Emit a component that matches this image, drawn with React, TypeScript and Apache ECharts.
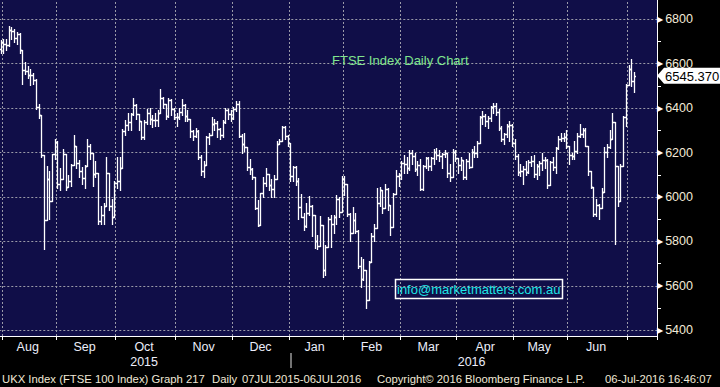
import React, { useEffect, useRef } from 'react';
import * as echarts from 'echarts';

// ---- calendar (trading days shown on the chart) ----
const monthNames = ['', 'Aug', 'Sep', 'Oct', 'Nov', 'Dec', 'Jan', 'Feb', 'Mar', 'Apr', 'May', 'Jun', ''];
const monthNums = [7, 8, 9, 10, 11, 12, 1, 2, 3, 4, 5, 6, 7];
const monthYears = [2015, 2015, 2015, 2015, 2015, 2015, 2016, 2016, 2016, 2016, 2016, 2016, 2016];
const monthDays = [
  [31],
  [3, 4, 5, 6, 7, 10, 11, 12, 13, 14, 17, 18, 19, 20, 21, 24, 25, 26, 27, 28],
  [1, 2, 3, 4, 7, 8, 9, 10, 11, 14, 15, 16, 17, 18, 21, 22, 23, 24, 25, 28, 29, 30],
  [1, 2, 5, 6, 7, 8, 9, 12, 13, 14, 15, 16, 19, 20, 21, 22, 23, 26, 27, 28, 29, 30],
  [2, 3, 4, 5, 6, 9, 10, 11, 12, 13, 16, 17, 18, 19, 20, 23, 24, 25, 26, 27, 30],
  [1, 2, 3, 4, 7, 8, 9, 10, 11, 14, 15, 16, 17, 18, 21, 22, 23, 24, 29, 30, 31],
  [4, 5, 6, 7, 8, 11, 12, 13, 14, 15, 18, 19, 20, 21, 22, 25, 26, 27, 28, 29],
  [1, 2, 3, 4, 5, 8, 9, 10, 11, 12, 15, 16, 17, 18, 19, 22, 23, 24, 25, 26, 29],
  [1, 2, 3, 4, 7, 8, 9, 10, 11, 14, 15, 16, 17, 18, 21, 22, 23, 24, 29, 30, 31],
  [1, 4, 5, 6, 7, 8, 11, 12, 13, 14, 15, 18, 19, 20, 21, 22, 25, 26, 27, 28, 29],
  [3, 4, 5, 6, 9, 10, 11, 12, 13, 16, 17, 18, 19, 20, 23, 24, 25, 26, 27, 31],
  [1, 2, 3, 6, 7, 8, 9, 10, 13, 14, 15, 16, 17, 20, 21, 22, 23, 24, 27, 28, 29, 30],
  [1, 4, 5],
];
const padSlots = 8;
const yearLabels = ['2015', '2016'];

// ---- OHLC values (FTSE 100) ----
const opens = [
  6668,
  6696, 6688, 6686, 6752, 6747, 6718, 6736, 6664, 6571, 6568, 6550, 6551, 6526, 6403, 6367, 6188, 5898, 6081, 5980, 6193,
  6247, 6058, 6083, 6194, 6043, 6074, 6146, 6229, 6155, 6118, 6084, 6138, 6229, 6197, 6104, 6109, 5893, 5917, 5961, 6109, 5958, 5909,
  6062, 6073, 6130, 6299, 6326, 6336, 6374, 6416, 6372, 6342, 6270, 6338, 6378, 6353, 6345, 6348, 6376, 6444, 6417, 6366, 6437, 6395,
  6361, 6361, 6383, 6412, 6365, 6353, 6295, 6275, 6297, 6178, 6118, 6146, 6268, 6278, 6329, 6334, 6305, 6277, 6337, 6393, 6375,
  6356, 6395, 6420, 6275, 6238, 6223, 6136, 6126, 6088, 5952, 5874, 6018, 6061, 6102, 6052, 6034, 6083, 6240, 6254, 6314, 6274,
  6242, 6093, 6137, 6073, 5954, 5912, 5871, 5929, 5961, 5918, 5804, 5779, 5876, 5673, 5773, 5900, 5877, 5911, 5990, 5931,
  6083, 6060, 5922, 5837, 5898, 5848, 5689, 5632, 5672, 5537, 5707, 5824, 5862, 5971, 6030, 5950, 6037, 5962, 5867, 6013, 6096,
  6097, 6153, 6147, 6130, 6199, 6183, 6125, 6146, 6036, 6139, 6174, 6140, 6175, 6201, 6189, 6185, 6192, 6199, 6106, 6091, 6203,
  6175, 6146, 6165, 6092, 6161, 6136, 6204, 6200, 6242, 6362, 6365, 6343, 6354, 6406, 6410, 6381, 6310, 6260, 6284, 6319, 6322,
  6242, 6185, 6112, 6117, 6125, 6114, 6156, 6162, 6104, 6138, 6151, 6167, 6165, 6053, 6156, 6136, 6219, 6262, 6265, 6270,
  6231, 6191, 6185, 6209, 6273, 6285, 6301, 6231, 6116, 6044, 5923, 5966, 5950, 6021, 6204, 6227, 6261, 6338, 6138, 5982, 6140, 6360,
  6504, 6577, 6522,
];
const highs = [
  6707,
  6710, 6710, 6769, 6766, 6755, 6745, 6740, 6664, 6610, 6590, 6575, 6560, 6530, 6420, 6367, 6188, 6140, 6115, 6195, 6260,
  6250, 6130, 6215, 6194, 6100, 6150, 6280, 6229, 6165, 6135, 6145, 6260, 6240, 6197, 6160, 6109, 5960, 5975, 6180, 6110, 5990, 6070,
  6178, 6180, 6305, 6345, 6380, 6380, 6445, 6420, 6372, 6342, 6345, 6395, 6400, 6370, 6380, 6390, 6485, 6450, 6417, 6445, 6440, 6400,
  6380, 6400, 6440, 6420, 6390, 6353, 6300, 6310, 6300, 6190, 6160, 6275, 6290, 6360, 6350, 6340, 6310, 6345, 6400, 6395, 6390,
  6405, 6430, 6430, 6285, 6290, 6223, 6170, 6130, 6088, 5985, 6020, 6090, 6130, 6105, 6080, 6100, 6250, 6260, 6320, 6320, 6280,
  6245, 6140, 6140, 6085, 6015, 5930, 5975, 6005, 5965, 5920, 5830, 5915, 5876, 5785, 5910, 5920, 5920, 6010, 6000, 6095,
  6095, 6060, 5930, 5955, 5930, 5850, 5730, 5720, 5672, 5710, 5840, 5880, 6040, 6045, 6030, 6060, 6040, 5962, 6020, 6120, 6110,
  6160, 6190, 6180, 6210, 6210, 6200, 6160, 6170, 6145, 6180, 6180, 6180, 6215, 6220, 6210, 6200, 6210, 6199, 6150, 6215, 6210,
  6175, 6180, 6165, 6170, 6200, 6215, 6230, 6250, 6365, 6385, 6375, 6365, 6410, 6425, 6425, 6395, 6320, 6290, 6330, 6340, 6330,
  6260, 6195, 6150, 6140, 6160, 6165, 6185, 6190, 6150, 6160, 6200, 6180, 6170, 6160, 6180, 6225, 6275, 6290, 6290, 6300,
  6231, 6200, 6250, 6290, 6330, 6310, 6310, 6231, 6116, 6044, 5990, 5970, 6040, 6225, 6240, 6300, 6380, 6338, 6138, 6150, 6365, 6510,
  6595, 6621, 6565,
];
const lows = [
  6648,
  6648, 6660, 6680, 6712, 6700, 6690, 6648, 6510, 6555, 6535, 6505, 6510, 6395, 6356, 6180, 5768, 5898, 5900, 5980, 6170,
  6040, 6030, 6083, 6030, 6043, 6050, 6146, 6130, 6090, 6060, 6040, 6138, 6170, 6050, 6090, 5880, 5880, 5880, 5961, 5940, 5880, 5909,
  6040, 6030, 6130, 6280, 6300, 6300, 6370, 6350, 6300, 6260, 6260, 6330, 6330, 6315, 6320, 6320, 6376, 6400, 6350, 6360, 6370, 6350,
  6320, 6350, 6370, 6340, 6340, 6270, 6255, 6270, 6170, 6100, 6090, 6146, 6240, 6278, 6300, 6270, 6260, 6270, 6335, 6350, 6340,
  6350, 6385, 6270, 6200, 6205, 6120, 6105, 6080, 5945, 5871, 5874, 6000, 6050, 6030, 6000, 6000, 6083, 6238, 6254, 6260, 6230,
  6070, 6070, 6055, 5900, 5910, 5850, 5865, 5920, 5825, 5770, 5767, 5779, 5639, 5650, 5773, 5776, 5840, 5880, 5910, 5931,
  6010, 5915, 5800, 5837, 5840, 5680, 5595, 5625, 5500, 5537, 5707, 5800, 5862, 5960, 5930, 5950, 5940, 5830, 5867, 6013, 6050,
  6080, 6110, 6110, 6120, 6150, 6115, 6100, 6030, 6030, 6130, 6120, 6120, 6150, 6170, 6160, 6130, 6180, 6090, 6070, 6091, 6160,
  6110, 6120, 6080, 6080, 6130, 6136, 6180, 6180, 6242, 6330, 6320, 6310, 6340, 6380, 6370, 6300, 6250, 6240, 6270, 6250, 6230,
  6170, 6100, 6095, 6060, 6100, 6110, 6140, 6090, 6080, 6100, 6120, 6130, 6040, 6053, 6120, 6110, 6215, 6250, 6250, 6220,
  6150, 6170, 6170, 6200, 6270, 6270, 6230, 6100, 6040, 5915, 5915, 5900, 5950, 6021, 6180, 6220, 6261, 5788, 5958, 5982, 6140, 6320,
  6504, 6500, 6474,
];
const closes = [
  6696,
  6688, 6686, 6752, 6747, 6718, 6736, 6664, 6571, 6568, 6550, 6551, 6526, 6403, 6367, 6188, 5898, 6081, 5980, 6193, 6247,
  6058, 6083, 6194, 6043, 6074, 6146, 6229, 6155, 6118, 6084, 6138, 6229, 6197, 6104, 6109, 5893, 5917, 5961, 6109, 5958, 5909, 6062,
  6073, 6130, 6299, 6326, 6336, 6374, 6416, 6372, 6342, 6270, 6338, 6378, 6353, 6345, 6348, 6376, 6444, 6417, 6366, 6437, 6395, 6361,
  6361, 6383, 6412, 6365, 6353, 6295, 6275, 6297, 6178, 6118, 6146, 6268, 6278, 6329, 6334, 6305, 6277, 6337, 6393, 6375, 6356,
  6395, 6420, 6275, 6238, 6223, 6136, 6126, 6088, 5952, 5874, 6018, 6061, 6102, 6052, 6034, 6083, 6240, 6254, 6314, 6274, 6242,
  6093, 6137, 6073, 5954, 5912, 5871, 5929, 5961, 5918, 5804, 5779, 5876, 5673, 5773, 5900, 5877, 5911, 5990, 5931, 6083,
  6060, 5922, 5837, 5898, 5848, 5689, 5632, 5672, 5537, 5707, 5824, 5862, 5971, 6030, 5950, 6037, 5962, 5867, 6013, 6096, 6097,
  6153, 6147, 6130, 6199, 6183, 6125, 6146, 6036, 6139, 6174, 6140, 6175, 6201, 6189, 6185, 6192, 6199, 6106, 6091, 6203, 6175,
  6146, 6165, 6092, 6161, 6136, 6204, 6200, 6242, 6362, 6365, 6343, 6354, 6406, 6410, 6381, 6310, 6260, 6284, 6319, 6322, 6242,
  6185, 6112, 6117, 6125, 6114, 6156, 6162, 6104, 6138, 6151, 6167, 6165, 6053, 6156, 6136, 6219, 6262, 6265, 6270, 6231,
  6191, 6185, 6209, 6273, 6285, 6301, 6231, 6116, 6044, 5923, 5966, 5950, 6021, 6204, 6227, 6261, 6338, 6138, 5982, 6140, 6360, 6504,
  6577, 6522, 6545.37,
];

const titleText = 'FTSE Index Daily Chart';
const emailText = 'info@marketmatters.com.au';
const footerTexts = [
  'UKX Index (FTSE 100 Index) Graph 217',
  'Daily',
  '07JUL2015-06JUL2016',
  'Copyright\u00A9 2016 Bloomberg Finance L.P.',
  '06-Jul-2016 16:46:07',
];

const FONT = '"Liberation Sans", Arial, Helvetica, sans-serif';

export default function App() {
  const ref = useRef<HTMLDivElement>(null);

  useEffect(() => {
    if (!ref.current) return;
    const chart = echarts.init(ref.current, null, { renderer: 'svg' });

    const dates: string[] = [];
    const monthStart: number[] = [];
    monthDays.forEach((days, m) => {
      monthStart.push(dates.length);
      days.forEach((d) =>
        dates.push(`${monthYears[m]}-${String(monthNums[m]).padStart(2, '0')}-${String(d).padStart(2, '0')}`)
      );
    });
    const categories = dates.concat(Array.from({ length: padSlots }, (_, i) => `pad${i}`));
    const startSet = new Set(monthStart);
    const monthLabelAt: Record<number, string> = {};
    monthDays.forEach((days, m) => {
      if (monthNames[m]) monthLabelAt[monthStart[m] + Math.floor((days.length - 1) / 2)] = monthNames[m];
    });
    const yearBoundary = monthStart[monthYears.indexOf(2016)];
    const yearLabelAt: Record<number, string> = {};
    yearLabelAt[Math.floor((yearBoundary - 1) / 2)] = yearLabels[0];
    yearLabelAt[Math.floor((yearBoundary + categories.length - 1) / 2)] = yearLabels[1];

    const data = dates.map((_, i) => [i, opens[i], highs[i], lows[i], closes[i]]);
    const lastClose = closes[closes.length - 1];

    const gridLine = { color: '#9a9aa8', width: 1, type: [2, 2] as any };

    chart.setOption({
      animation: false,
      backgroundColor: '#000000',
      grid: {
        left: -0.7,
        right: 63,
        top: -2,
        bottom: 51,
        show: true,
        backgroundColor: '#100e48',
        borderWidth: 0,
        containLabel: false,
        outerBoundsMode: 'none',
      },
      xAxis: [
        {
          type: 'category',
          data: categories,
          boundaryGap: true,
          axisLine: { show: true, lineStyle: { color: '#ffffff', width: 1 } },
          axisTick: {
            show: true,
            length: 4,
            interval: (i: number) => startSet.has(i),
            lineStyle: { color: '#ffffff', width: 1 },
          },
          splitLine: { show: true, interval: (i: number) => startSet.has(i), lineStyle: gridLine },
          axisLabel: {
            interval: (i: number) => monthLabelAt[i] !== undefined,
            formatter: (_v: string, i: number) => monthLabelAt[i] ?? '',
            color: '#eceefa',
            fontFamily: FONT,
            fontSize: 12.5,
            margin: 4,
          },
        },
        {
          type: 'category',
          data: categories,
          position: 'bottom',
          offset: 17,
          axisLine: { show: false },
          axisTick: {
            show: true,
            alignWithLabel: true,
            length: 15,
            interval: (i: number) => i === yearBoundary,
            lineStyle: { color: '#9a9a9a', width: 1.5 },
          },
          splitLine: { show: false },
          axisLabel: {
            interval: (i: number) => yearLabelAt[i] !== undefined,
            formatter: (_v: string, i: number) => yearLabelAt[i] ?? '',
            color: '#eceefa',
            fontFamily: FONT,
            fontSize: 12.5,
            margin: 2,
          },
        },
      ],
      yAxis: {
        type: 'value',
        position: 'right',
        min: 5374,
        max: 6896,
        splitNumber: 7,
        minInterval: 200,
        maxInterval: 200,
        axisLine: { show: true, lineStyle: { color: '#ffffff', width: 1 } },
        axisTick: { show: false },
        minorTick: { show: true, splitNumber: 2, length: 4, lineStyle: { color: '#ffffff', width: 1 } },
        splitLine: { show: true, lineStyle: gridLine },
        axisLabel: {
          margin: 0,
          showMinLabel: false,
          showMaxLabel: false,
          formatter: (v: number) => (v % 200 === 0 ? `{t|\u25B6}{v|${v}}` : ''),
          rich: {
            t: { color: '#ffffff', fontSize: 8, fontFamily: 'DejaVu Sans', padding: [0, 2, 0, 0] },
            v: { color: '#f3ead8', fontSize: 12.5, fontFamily: FONT },
          },
        },
      },
      series: [
        {
          type: 'custom',
          xAxisIndex: 0,
          yAxisIndex: 0,
          encode: { x: 0, y: [1, 2, 3, 4] },
          data,
          renderItem: (_params: any, api: any) => {
            const i = api.value(0);
            const o = api.coord([i, api.value(1)]);
            const h = api.coord([i, api.value(2)]);
            const l = api.coord([i, api.value(3)]);
            const c = api.coord([i, api.value(4)]);
            const w = api.size([1, 0])[0];
            const x = Math.round(o[0]) + 0.5;
            const half = w / 2;
            const py = (v: number) => Math.round(v) + 0.5;
            const style = { stroke: '#ffffff', lineWidth: 1.3, fill: null };
            return {
              type: 'group',
              children: [
                { type: 'line', shape: { x1: x, y1: Math.round(h[1]), x2: x, y2: Math.round(l[1]) + 1 }, style },
                { type: 'line', shape: { x1: Math.round(x - half), y1: py(o[1]), x2: x, y2: py(o[1]) }, style },
                { type: 'line', shape: { x1: x, y1: py(c[1]), x2: Math.round(x + half), y2: py(c[1]) }, style },
              ],
            };
          },
        },
      ],
    });

    const tagY = chart.convertToPixel({ yAxisIndex: 0 }, lastClose) as number;
    const footerX = [2, 212, 242, 377, 605];

    chart.setOption({
      graphic: [
        {
          type: 'text',
          x: 332,
          y: 60,
          z: 20,
          style: { text: titleText, fill: '#80e68e', fontSize: 13, fontFamily: FONT, verticalAlign: 'middle' },
        },
        {
          type: 'rect',
          z: 20,
          shape: { x: 395.5, y: 279.5, width: 167, height: 19 },
          style: { fill: 'transparent', stroke: '#ffffff', lineWidth: 1.5 },
        },
        {
          type: 'text',
          x: 397,
          y: 289.5,
          z: 21,
          style: { text: emailText, fill: '#1ee6e6', fontSize: 13, fontFamily: FONT, verticalAlign: 'middle' },
        },
        {
          type: 'polygon',
          z: 30,
          shape: {
            points: [
              [657, tagY],
              [664, tagY - 8],
              [720, tagY - 8],
              [720, tagY + 8],
              [664, tagY + 8],
            ],
          },
          style: { fill: '#ffffff' },
        },
        {
          type: 'text',
          x: 665,
          y: tagY + 0.5,
          z: 31,
          style: {
            text: lastClose.toFixed(3),
            fill: '#000000',
            fontSize: 13,
            fontFamily: FONT,
            verticalAlign: 'middle',
          },
        },
        ...footerTexts.map((t, k) => ({
          type: 'text',
          x: footerX[k],
          y: 379,
          z: 20,
          style: { text: t, fill: '#f0e8d6', fontSize: 11.3, fontFamily: FONT, verticalAlign: 'middle' },
        })),
      ],
    });

    return () => chart.dispose();
  }, []);

  return (
    <div
      ref={ref}
      style={{ position: 'fixed', left: 0, top: 0, width: 720, height: 387, background: '#000' }}
    />
  );
}
